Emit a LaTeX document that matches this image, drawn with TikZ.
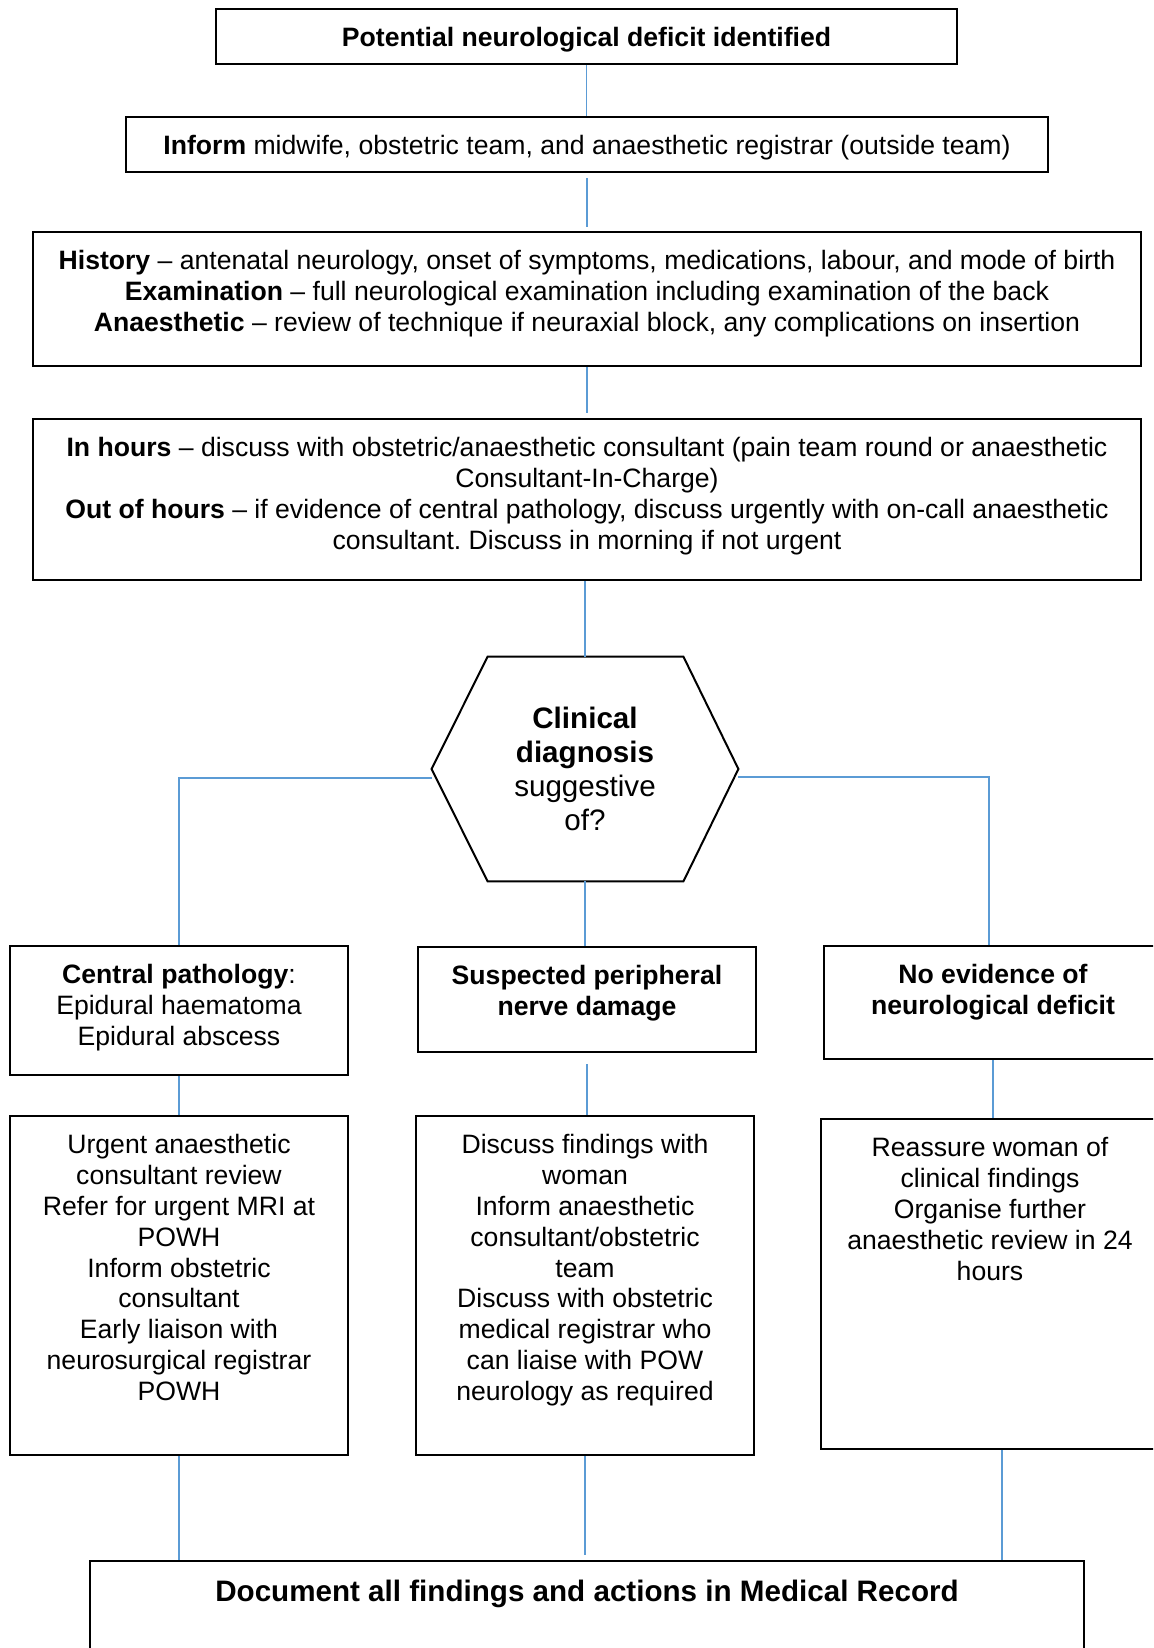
\documentclass[tikz,border=0pt]{standalone}
\usepackage{fontspec}
\setmainfont{Liberation Sans}
\usepackage{tikz}
\usetikzlibrary{positioning,calc}
\frenchspacing
\definecolor{ink}     {HTML}{000000}
\definecolor{flowblue}{HTML}{5B9BD5}
\newcommand{\bodysize}{\fontsize{13.3}{15.4}\selectfont}
\newcommand{\bigsize}{\fontsize{14.8}{17.1}\selectfont}
% box content: width, height, text (top aligned)
\newcommand{\boxtext}[3]{\parbox[c][#2][t]{#1}{\centering\vspace*{9.3pt}#3\par}}
\tikzset{
  % --- nodes
  box/.style     = {draw=ink, line width=1pt, inner sep=0pt, anchor=north west, font=\bodysize},
  hexbox/.style  = {inner sep=0pt, minimum width=153pt, minimum height=112pt,
                    align=center, font=\bigsize},
  boxline/.style = {draw=ink, line width=1pt},
  % --- edges
  link/.style    = {draw=flowblue, line width=0.6pt},
}
\begin{document}
\begin{tikzpicture}[x=0.5pt,y=-0.5pt]
  \useasboundingbox (0,0) rectangle (1153,1648);
  \clip (0,0) rectangle (1153,1648);

  % --- top chain
  \node[box] (deficit) at (215,8) {\boxtext{370.5pt}{27.5pt}{\textbf{Potential neurological deficit identified}}};
  \node[box] (inform) at (125,116) {\boxtext{461pt}{27.5pt}{\textbf{Inform} midwife, obstetric team, and anaesthetic registrar (outside team)}};
  \node[box] (history) at (32,231) {\boxtext{554pt}{67pt}{%
    \textbf{History} -- antenatal neurology, onset of symptoms, medications, labour, and mode of birth\\
    \textbf{Examination} -- full neurological examination including examination of the back\\
    \textbf{Anaesthetic} -- review of technique if neuraxial block, any complications on insertion}};
  \node[box] (hours) at (32,418) {\boxtext{554pt}{80.5pt}{%
    \textbf{In hours} -- discuss with obstetric/anaesthetic consultant (pain team round or anaesthetic\\
    Consultant-In-Charge)\\
    \textbf{Out of hours} -- if evidence of central pathology, discuss urgently with on-call anaesthetic\\
    consultant. Discuss in morning if not urgent}};

  % --- decision
  \node[hexbox] (diag) at (585,769) {\textbf{Clinical}\\\textbf{diagnosis}\\suggestive\\of?};
  \draw[boxline] ($(diag.north west)+(56,0)$) -- ($(diag.north east)+(-55,0)$) -- (diag.east)
    -- ($(diag.south east)+(-55,0)$) -- ($(diag.south west)+(56,0)$) -- (diag.west) -- cycle;

  % --- branches
  \node[box] (central) at (9,945) {\boxtext{169pt}{64.5pt}{\textbf{Central pathology}:\\ Epidural haematoma\\ Epidural abscess}};
  \node[box] (periph) at (417,946) {\boxtext{169pt}{52.5pt}{\textbf{Suspected peripheral}\\ \textbf{nerve damage}}};
  \node[box] (noevid) at (823,945) {\boxtext{169pt}{56.5pt}{\textbf{No evidence of}\\ \textbf{neurological deficit}}};

  \node[box] (urgent) at (9,1115) {\boxtext{169pt}{169.5pt}{%
    Urgent anaesthetic\\ consultant review\\ Refer for urgent MRI at\\ POWH\\ Inform obstetric\\
    consultant\\ Early liaison with\\ neurosurgical registrar\\ POWH}};
  \node[box] (discuss) at (415,1115) {\boxtext{169pt}{169.5pt}{%
    Discuss findings with\\ woman\\ Inform anaesthetic\\ consultant/obstetric\\ team\\
    Discuss with obstetric\\ medical registrar who\\ can liaise with POW\\ neurology as required}};
  \node[box] (reassure) at (820,1118) {\boxtext{169pt}{165pt}{%
    Reassure woman of\\ clinical findings\\ Organise further\\ anaesthetic review in 24\\ hours}};

  \node[box] (document) at (89,1560) {\boxtext{497pt}{80pt}{\bigsize\textbf{Document all findings and actions in Medical Record}}};

  % --- connectors
  \draw[link] (deficit.south) -- (deficit.south |- inform.north);
  \draw[link,shorten <=2.5pt,shorten >=2pt] (inform.south) -- (inform.south |- history.north);
  \draw[link,shorten >=2.5pt] (history.south) -- (history.south |- hours.north);
  \draw[link] (hours.south -| diag.north) -- (diag.north);
  \draw[link] ([yshift=-4.5pt]diag.west) -| (central.north);
  \draw[link] ([yshift=-4pt]diag.east) -| ([xshift=-2pt]noevid.north);
  \draw[link] (diag.south) -- (diag.south |- periph.north);
  \draw[link] (central.south) -- (central.south |- urgent.north);
  \draw[link,shorten <=5.5pt] (periph.south) -- (periph.south |- discuss.north);
  \draw[link] (noevid.south) -- (noevid.south |- reassure.north);
  \draw[link] (urgent.south) -- (urgent.south |- document.north);
  \draw[link,shorten >=2.5pt] (discuss.south) -- (discuss.south |- document.north);
  \draw[link] ([xshift=6pt]reassure.south) -- ([xshift=6pt]reassure.south |- document.north);
\end{tikzpicture}
\end{document}
